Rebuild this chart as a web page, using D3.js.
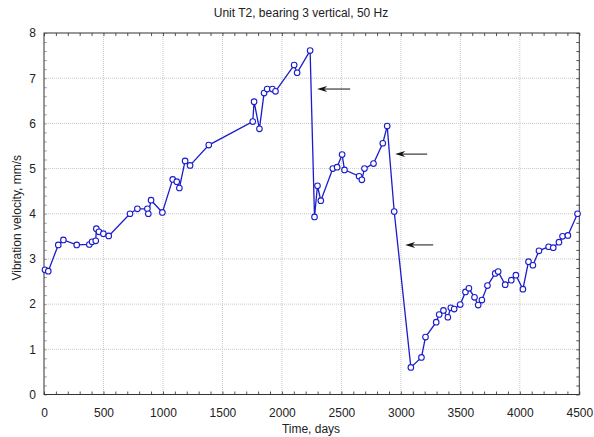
<!DOCTYPE html>
<html><head><meta charset="utf-8">
<script src="https://cdn.jsdelivr.net/npm/d3@7"></script>
<style>body{margin:0;background:#fff;} svg{display:block;font-family:"Liberation Sans",Arial,sans-serif;}</style>
</head><body><svg id="c" width="594" height="437"></svg>
<script>
const days = [8,36,120,163,275,381,404,435,440,462,499,544,723,785,869,877,900,995,1082,1116,
1138,1186,1228,1385,1755,1766,1811,1850,1876,1920,1946,2103,2128,2237,2274,2299,2327,2428,2464,2506,
2526,2649,2672,2694,2770,2848,2885,2944,3084,3173,3207,3297,3322,3358,3395,3420,3448,3499,3543,3572,
3619,3650,3681,3728,3793,3818,3877,3928,3967,4026,4073,4110,4161,4242,4281,4329,4359,4404,4485];
const velocity = [2.76,2.73,3.31,3.42,3.31,3.32,3.38,3.40,3.67,3.60,3.56,3.51,4.00,4.11,4.11,4.00,4.30,4.03,4.76,4.71,
4.57,5.17,5.07,5.52,6.04,6.48,5.88,6.67,6.76,6.76,6.71,7.29,7.12,7.61,3.93,4.62,4.29,5.00,5.03,5.31,
4.97,4.83,4.75,5.00,5.11,5.56,5.94,4.05,0.60,0.82,1.27,1.60,1.77,1.86,1.71,1.92,1.89,1.99,2.27,2.35,
2.15,1.98,2.09,2.41,2.68,2.72,2.43,2.53,2.64,2.33,2.94,2.86,3.18,3.27,3.25,3.37,3.50,3.52,4.00];
const xTicks = [0,500,1000,1500,2000,2500,3000,3500,4000,4500];
const yTicks = [0,1,2,3,4,5,6,7,8];
const arrowTipDay = [2296,2952,3036];
const arrowTailDay = [2574,3221,3272];
const arrowVal = [6.76,5.32,3.31];
const title = "Unit T2, bearing 3 vertical, 50 Hz";
const xLabel = "Time, days";
const yLabel = "Vibration velocity, mm/s";

const svg = d3.select("#c");
const L=44, R=579.3, T=33, B=394.5;
const x = d3.scaleLinear().domain([0,4500]).range([L,R]);
const y = d3.scaleLinear().domain([0,8]).range([B,T]);

// grid
const g = svg.append("g");
g.selectAll(".gx").data(xTicks.slice(1,-1)).join("line")
 .attr("x1",d=>x(d)).attr("x2",d=>x(d)).attr("y1",T).attr("y2",B)
 .attr("stroke","#c8c8c8").attr("stroke-width",1).attr("stroke-dasharray","1,1");
g.selectAll(".gy").data(yTicks.slice(1,-1)).join("line")
 .attr("y1",d=>y(d)).attr("y2",d=>y(d)).attr("x1",L).attr("x2",R)
 .attr("stroke","#c8c8c8").attr("stroke-width",1).attr("stroke-dasharray","1,1");

// axes with inward ticks
const minorX = d3.range(0,4501,100), minorY = d3.range(0,8.001,0.2);
function axisStyle(sel){ sel.select(".domain").remove(); sel.selectAll("text").remove(); sel.selectAll("line").attr("stroke","#555"); }
svg.append("g").attr("transform",`translate(0,${B})`).call(d3.axisBottom(x).tickValues(minorX).tickSizeInner(-3).tickSizeOuter(0)).call(axisStyle);
svg.append("g").attr("transform",`translate(0,${T})`).call(d3.axisTop(x).tickValues(minorX).tickSizeInner(-3).tickSizeOuter(0)).call(axisStyle);
svg.append("g").attr("transform",`translate(${L},0)`).call(d3.axisLeft(y).tickValues(minorY).tickSizeInner(-3).tickSizeOuter(0)).call(axisStyle).selectAll("line").attr("stroke","#aaa");
svg.append("g").attr("transform",`translate(${R},0)`).call(d3.axisRight(y).tickValues(minorY).tickSizeInner(-3).tickSizeOuter(0)).call(axisStyle);

// labels
svg.append("g").attr("transform",`translate(0,${B})`).call(d3.axisBottom(x).tickValues(xTicks).tickSize(0).tickPadding(14).tickFormat(d3.format("d")))
 .call(s=>{s.select(".domain").remove(); s.selectAll("text").attr("font-size","12px").attr("fill","#222").attr("font-family","Liberation Sans, Arial, sans-serif");});
svg.append("g").attr("transform",`translate(${L},0)`).call(d3.axisLeft(y).tickValues(yTicks).tickSize(0).tickPadding(8).tickFormat(d3.format("d")))
 .call(s=>{s.select(".domain").remove(); s.selectAll("text").attr("font-size","12px").attr("fill","#222").attr("font-family","Liberation Sans, Arial, sans-serif");});

// frame
svg.append("rect").attr("x",L).attr("y",T).attr("width",R-L).attr("height",B-T).attr("fill","none").attr("stroke","#333").attr("stroke-width",1);

// data
const pts = days.map((d,i)=>[d,velocity[i]]);
svg.append("path").datum(pts).attr("fill","none").attr("stroke","#1c1ccc").attr("stroke-width",1.3)
 .attr("d",d3.line().x(d=>x(d[0])).y(d=>y(d[1])));
svg.append("g").selectAll("circle").data(pts).join("circle")
 .attr("cx",d=>x(d[0])).attr("cy",d=>y(d[1])).attr("r",2.8)
 .attr("fill","#fff").attr("stroke","#1c1ccc").attr("stroke-width",1.1);

// arrows
arrowTipDay.forEach((t,i)=>{
  const tx=x(t), ty=y(arrowVal[i]), ex=x(arrowTailDay[i]);
  svg.append("line").attr("x1",tx+6).attr("x2",ex).attr("y1",ty).attr("y2",ty).attr("stroke","#111").attr("stroke-width",1);
  svg.append("path").attr("d",`M${tx},${ty} L${tx+10},${ty-3} L${tx+7},${ty} L${tx+10},${ty+3} Z`).attr("fill","#111");
});

// titles
svg.append("text").attr("x",301).attr("y",17).attr("text-anchor","middle").attr("font-size","12px").attr("fill","#222").text(title);
svg.append("text").attr("x",311).attr("y",433).attr("text-anchor","middle").attr("font-size","12px").attr("fill","#222").text(xLabel);
svg.append("text").attr("transform",`translate(21,${(T+B)/2+4}) rotate(-90)`).attr("text-anchor","middle").attr("font-size","12px").attr("fill","#222").text(yLabel);
</script></body></html>
